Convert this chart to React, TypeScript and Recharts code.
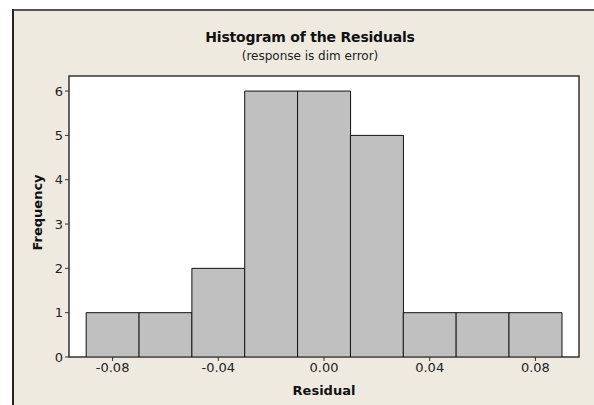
import { ComposedChart, Bar, XAxis, YAxis, CartesianGrid, ReferenceArea } from 'recharts';

// residual histogram: bin midpoints (width 0.02) and their frequencies
const binMids = [-0.08, -0.06, -0.04, -0.02, 0.0, 0.02, 0.04, 0.06, 0.08];
const counts = [1, 1, 2, 6, 6, 5, 1, 1, 1];
const xTicks = [-0.08, -0.04, 0.0, 0.04, 0.08];
const yTicks = [0, 1, 2, 3, 4, 5, 6];

const data = binMids.map((mid, i) => ({ mid, count: counts[i] }));

const X_DOMAIN: [number, number] = [-0.0965, 0.0965];
const Y_DOMAIN: [number, number] = [0, 6.34];

const FONT = '"DejaVu Sans", Tahoma, sans-serif';
const BG = '#EEEAE0';
const EDGE = '#333';

export default function App() {
  return (
    <>
      <style>{'html, body { margin: 0; overflow: hidden; background: #fff; }'}</style>
      <div style={{ position: 'fixed', left: 0, top: 0, width: 594, height: 405, background: BG, overflow: 'hidden' }}>
        {/* white page margin and the frame's left/top edges */}
        <div style={{ position: 'absolute', left: 0, top: 0, width: 594, height: 9, background: '#fff' }} />
        <div style={{ position: 'absolute', left: 0, top: 0, width: 12, height: 405, background: '#fff' }} />
        <div style={{ position: 'absolute', left: 12, top: 9, width: 582, height: 2, background: '#555' }} />
        <div style={{ position: 'absolute', left: 12, top: 9, width: 2, height: 396, background: '#222' }} />
        <div style={{ position: 'absolute', left: 0, top: 0, width: 594, height: 405, fontFamily: FONT }}>
          <div style={{ position: 'absolute', left: 0, width: 620, top: 29, textAlign: 'center', fontSize: 14, fontWeight: 'bold', color: '#111', letterSpacing: -0.2 }}>
            Histogram of the Residuals
          </div>
          <div style={{ position: 'absolute', left: 0, width: 620, top: 49, textAlign: 'center', fontSize: 12, color: '#222' }}>
            (response is dim error)
          </div>
          <ComposedChart
            width={594}
            height={405}
            data={data}
            margin={{ top: 76, right: 15, bottom: 0, left: 13 }}
            barCategoryGap={0}
            barGap={0}
            style={{ position: 'absolute', left: 0, top: 0 }}
          >
            <CartesianGrid horizontal={false} vertical={false} fill="#fff" />
            <XAxis
              dataKey="mid"
              type="number"
              domain={X_DOMAIN}
              ticks={xTicks}
              tickFormatter={(v: number) => v.toFixed(2)}
              tick={{ fontSize: 13, fill: '#222', fontFamily: FONT }}
              tickLine={{ stroke: EDGE }}
              tickSize={4}
              axisLine={false}
              allowDataOverflow
              label={{ value: 'Residual', position: 'insideBottom', offset: 10, fontSize: 13, fontWeight: 'bold', fill: '#111', fontFamily: FONT }}
              height={48}
            />
            <YAxis
              type="number"
              domain={Y_DOMAIN}
              ticks={yTicks}
              tick={{ fontSize: 13, fill: '#222', fontFamily: FONT }}
              tickLine={{ stroke: EDGE }}
              tickSize={4}
              axisLine={false}
              allowDataOverflow
              width={56}
              label={{ value: 'Frequency', angle: -90, position: 'insideLeft', offset: 24, dy: 34, fontSize: 13, fontWeight: 'bold', fill: '#111', fontFamily: FONT }}
            />
            <Bar dataKey="count" fill="#C0C0C0" stroke="#111" strokeWidth={1} isAnimationActive={false} />
            {/* box around the data region */}
            <ReferenceArea
              x1={X_DOMAIN[0]}
              x2={X_DOMAIN[1]}
              y1={Y_DOMAIN[0]}
              y2={Y_DOMAIN[1]}
              fill="none"
              fillOpacity={0}
              stroke={EDGE}
              strokeWidth={1.5}
              ifOverflow="visible"
            />
          </ComposedChart>
        </div>
      </div>
    </>
  );
}
